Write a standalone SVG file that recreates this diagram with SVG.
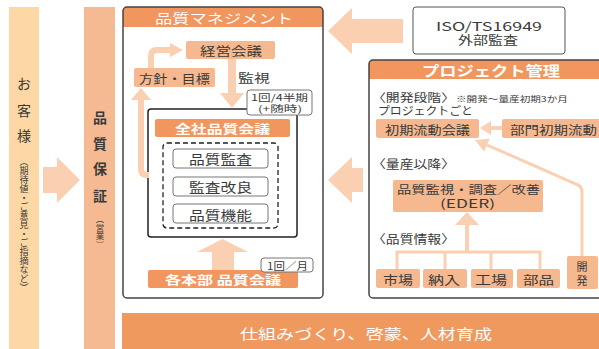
<svg xmlns="http://www.w3.org/2000/svg" width="599" height="349" viewBox="0 0 599 349">
<style>
text{font-family:"Noto Sans CJK JP","Noto Sans",sans-serif;fill:#3a3a3a;dominant-baseline:central}
.w{fill:#fff}
.b{font-weight:bold}
.lt{fill:#f6b98f}
.hd{fill:#f0965e}
.ar{fill:#fbcfb2}
.ln{stroke:#fbcfb2;fill:none}
.frame{fill:none;stroke:#444;stroke-width:1.5}
.wb{fill:#fff;stroke:#777;stroke-width:1}
.vt{writing-mode:vertical-rl}
</style>
<g id="customer">
<rect x="9" y="7" width="30" height="345" fill="#fdd8a5"/>
<text x="24" y="83" font-size="14" text-anchor="middle">お</text>
<text x="24" y="110" font-size="14" text-anchor="middle">客</text>
<text x="24" y="135" font-size="14" text-anchor="middle">様</text>
<text x="24" y="157" font-size="9" class="vt">（期待値・ご意見・ご指摘など）</text>
</g>
<g id="qa">
<rect x="84" y="7" width="31" height="345" fill="#f6ba92"/>
<text x="100" y="117" font-size="14" class="b" text-anchor="middle">品</text>
<text x="100" y="143" font-size="14" class="b" text-anchor="middle">質</text>
<text x="100" y="168" font-size="14" class="b" text-anchor="middle">保</text>
<text x="100" y="195" font-size="14" class="b" text-anchor="middle">証</text>
<text x="100" y="215" font-size="8.5" class="vt">（営業）</text>
</g>
<g id="qm">
<rect x="123" y="7" width="200" height="291" rx="4" fill="#fff"/>
<path d="M123,27 V11 Q123,7 127,7 H319 Q323,7 323,11 V27 Z" class="hd"/>
<rect x="123" y="7" width="200" height="291" rx="4" class="frame"/>
<text x="155" y="17" font-size="13" class="w" textLength="138" lengthAdjust="spacingAndGlyphs">品質マネジメント</text>
</g>
<g id="keiei">
<rect x="186" y="41" width="89" height="18" rx="2" class="lt"/>
<text x="200" y="50" font-size="12" textLength="62" lengthAdjust="spacingAndGlyphs">経営会議</text>
</g>
<g id="hoshin">
<rect x="134" y="68" width="81" height="19" rx="2" class="lt"/>
<text x="139" y="78" font-size="12" textLength="71" lengthAdjust="spacingAndGlyphs">方針・目標</text>
</g>
<g id="kanshi">
<text x="238" y="77" font-size="12" textLength="32" lengthAdjust="spacingAndGlyphs">監視</text>
</g>
<g id="zensha">
<rect x="148" y="109" width="149" height="128" rx="3" fill="#fff" stroke="#222" stroke-width="1.5"/>
<rect x="155" y="119" width="135" height="18" rx="2" class="hd"/>
<text x="175" y="128" font-size="12" class="w b" textLength="95" lengthAdjust="spacingAndGlyphs">全社品質会議</text>
<rect x="163" y="143" width="115" height="85" rx="4" fill="none" stroke="#222" stroke-width="1.3" stroke-dasharray="5,3"/>
<rect x="173" y="149" width="95" height="19" rx="3" class="wb"/>
<text x="189" y="158" font-size="13" textLength="63" lengthAdjust="spacingAndGlyphs">品質監査</text>
<rect x="173" y="177" width="95" height="19" rx="3" class="wb"/>
<text x="189" y="186" font-size="13" textLength="63" lengthAdjust="spacingAndGlyphs">監査改良</text>
<rect x="173" y="204" width="95" height="19" rx="3" class="wb"/>
<text x="189" y="214" font-size="13" textLength="63" lengthAdjust="spacingAndGlyphs">品質機能</text>
</g>
<g id="freq1">
<rect x="247" y="90" width="65" height="25" rx="3" class="wb" stroke="#555"/>
<text x="251" y="97" font-size="9" textLength="57" lengthAdjust="spacingAndGlyphs">1回/4半期</text>
<text x="258" y="108" font-size="9" textLength="44" lengthAdjust="spacingAndGlyphs">(+随時)</text>
</g>
<g id="honbu">
<rect x="148" y="270" width="150" height="18" rx="2" class="hd"/>
<text x="165" y="279" font-size="12" class="w b" textLength="116" lengthAdjust="spacingAndGlyphs">各本部 品質会議</text>
</g>
<g id="freq2">
<rect x="261" y="258" width="52" height="14" rx="3" class="wb" stroke="#555"/>
<text x="267" y="265" font-size="10" textLength="41" lengthAdjust="spacingAndGlyphs">1回／月</text>
</g>
<g id="iso">
<rect x="413" y="7" width="152" height="47" rx="3" fill="#fff" stroke="#555" stroke-width="1"/>
<text x="436" y="25" font-size="12" textLength="106" lengthAdjust="spacingAndGlyphs">ISO/TS16949</text>
<text x="458" y="39" font-size="12" textLength="60" lengthAdjust="spacingAndGlyphs">外部監査</text>
</g>
<g id="project">
<rect x="369" y="60" width="240" height="238" rx="4" fill="#fff"/>
<path d="M369,79 V64 Q369,60 373,60 H610 V79 Z" class="hd"/>
<rect x="369" y="60" width="240" height="238" rx="4" class="frame"/>
<text x="422" y="70" font-size="14" class="w b" textLength="138" lengthAdjust="spacingAndGlyphs">プロジェクト管理</text>
<text x="372" y="97" font-size="11.5" textLength="83" lengthAdjust="spacingAndGlyphs">〈開発段階〉</text>
<text x="456" y="98" font-size="8" textLength="112" lengthAdjust="spacingAndGlyphs">※開発～量産初期3か月</text>
<text x="378" y="110" font-size="11.5" textLength="95" lengthAdjust="spacingAndGlyphs">プロジェクトごと</text>
<text x="372" y="163" font-size="12" textLength="83" lengthAdjust="spacingAndGlyphs">〈量産以降〉</text>
<text x="372" y="238" font-size="12" textLength="83" lengthAdjust="spacingAndGlyphs">〈品質情報〉</text>
</g>
<g id="shoki">
<rect x="376" y="119" width="103" height="19" rx="2" class="lt"/>
<text x="385" y="129" font-size="12" textLength="85" lengthAdjust="spacingAndGlyphs">初期流動会議</text>
</g>
<g id="bumon">
<rect x="502" y="119" width="100" height="19" rx="2" class="lt"/>
<text x="510" y="129" font-size="12" textLength="87" lengthAdjust="spacingAndGlyphs">部門初期流動</text>
</g>
<g id="eder">
<rect x="393" y="180" width="150" height="32" rx="2" class="lt"/>
<text x="397" y="189" font-size="11.5" textLength="143" lengthAdjust="spacingAndGlyphs">品質監視・調査／改善</text>
<text x="440" y="203" font-size="11.5" textLength="55" lengthAdjust="spacingAndGlyphs">(EDER)</text>
</g>
<g id="ichiba">
<rect x="376" y="269" width="44" height="19" rx="2" class="lt"/>
<text x="383" y="279" font-size="12" textLength="30" lengthAdjust="spacingAndGlyphs">市場</text>
</g>
<g id="nonyu">
<rect x="423" y="269" width="44" height="19" rx="2" class="lt"/>
<text x="428" y="279" font-size="12" textLength="32" lengthAdjust="spacingAndGlyphs">納入</text>
</g>
<g id="kojo">
<rect x="471" y="269" width="42" height="19" rx="2" class="lt"/>
<text x="475" y="279" font-size="12" textLength="32" lengthAdjust="spacingAndGlyphs">工場</text>
</g>
<g id="buhin">
<rect x="517" y="269" width="43" height="19" rx="2" class="lt"/>
<text x="523" y="279" font-size="12" textLength="31" lengthAdjust="spacingAndGlyphs">部品</text>
</g>
<g id="kaihatsu">
<rect x="567" y="256" width="31" height="33" rx="2" class="lt"/>
<text x="582" y="266" font-size="11" text-anchor="middle">開</text>
<text x="582" y="280" font-size="11" text-anchor="middle">発</text>
</g>
<g id="banner">
<rect x="122" y="313" width="480" height="40" fill="#f0995f"/>
<text x="240" y="333" font-size="14" class="w" textLength="252" lengthAdjust="spacingAndGlyphs">仕組みづくり、啓蒙、人材育成</text>
</g>
<g id="connectors">
<path class="ar" d="M43,167 H57 V157 L80,180 L57,203 V193 H43 Z"/>
<path class="ar" d="M403,19 H352 V8 L328,31 L352,54 V43 H403 Z"/>
<path class="ar" d="M363,168 H352 V157 L328,180 L352,203 V192 H363 Z"/>
<path class="ar" d="M228,59 H236 V93 H244 L232,108 L220,93 H228 Z"/>
<path class="ar" d="M212,270 V252 H197 L222.5,239 L248,252 H234 V270 Z"/>
<path class="ln" stroke-width="6" d="M151,68 V56 Q151,50 157,50 H171"/>
<polygon class="ar" points="170,43 183,50 170,57"/>
<path class="ln" stroke-width="6" d="M149,175 H147 Q141,175 141,169 V99"/>
<polygon class="ar" points="131,100 151,100 141,88"/>
<path class="ln" stroke-width="4" d="M502,128 H489"/>
<polygon class="ar" points="491,121 491,135 480,128"/>
<path class="ln" stroke-width="3" d="M582,256 V192 Q582,186 576,184 L487,145"/>
<polygon class="ar" points="475,140 489.7,138.8 484.1,151.6"/>
<path class="ln" stroke-width="4" d="M467,252 V224"/>
<polygon class="ar" points="455,225 479,225 467,212"/>
<path class="ln" stroke-width="3" d="M397,269 V252 H540 V269 M445,252 V269 M491,252 V269"/>
</g>
</svg>
